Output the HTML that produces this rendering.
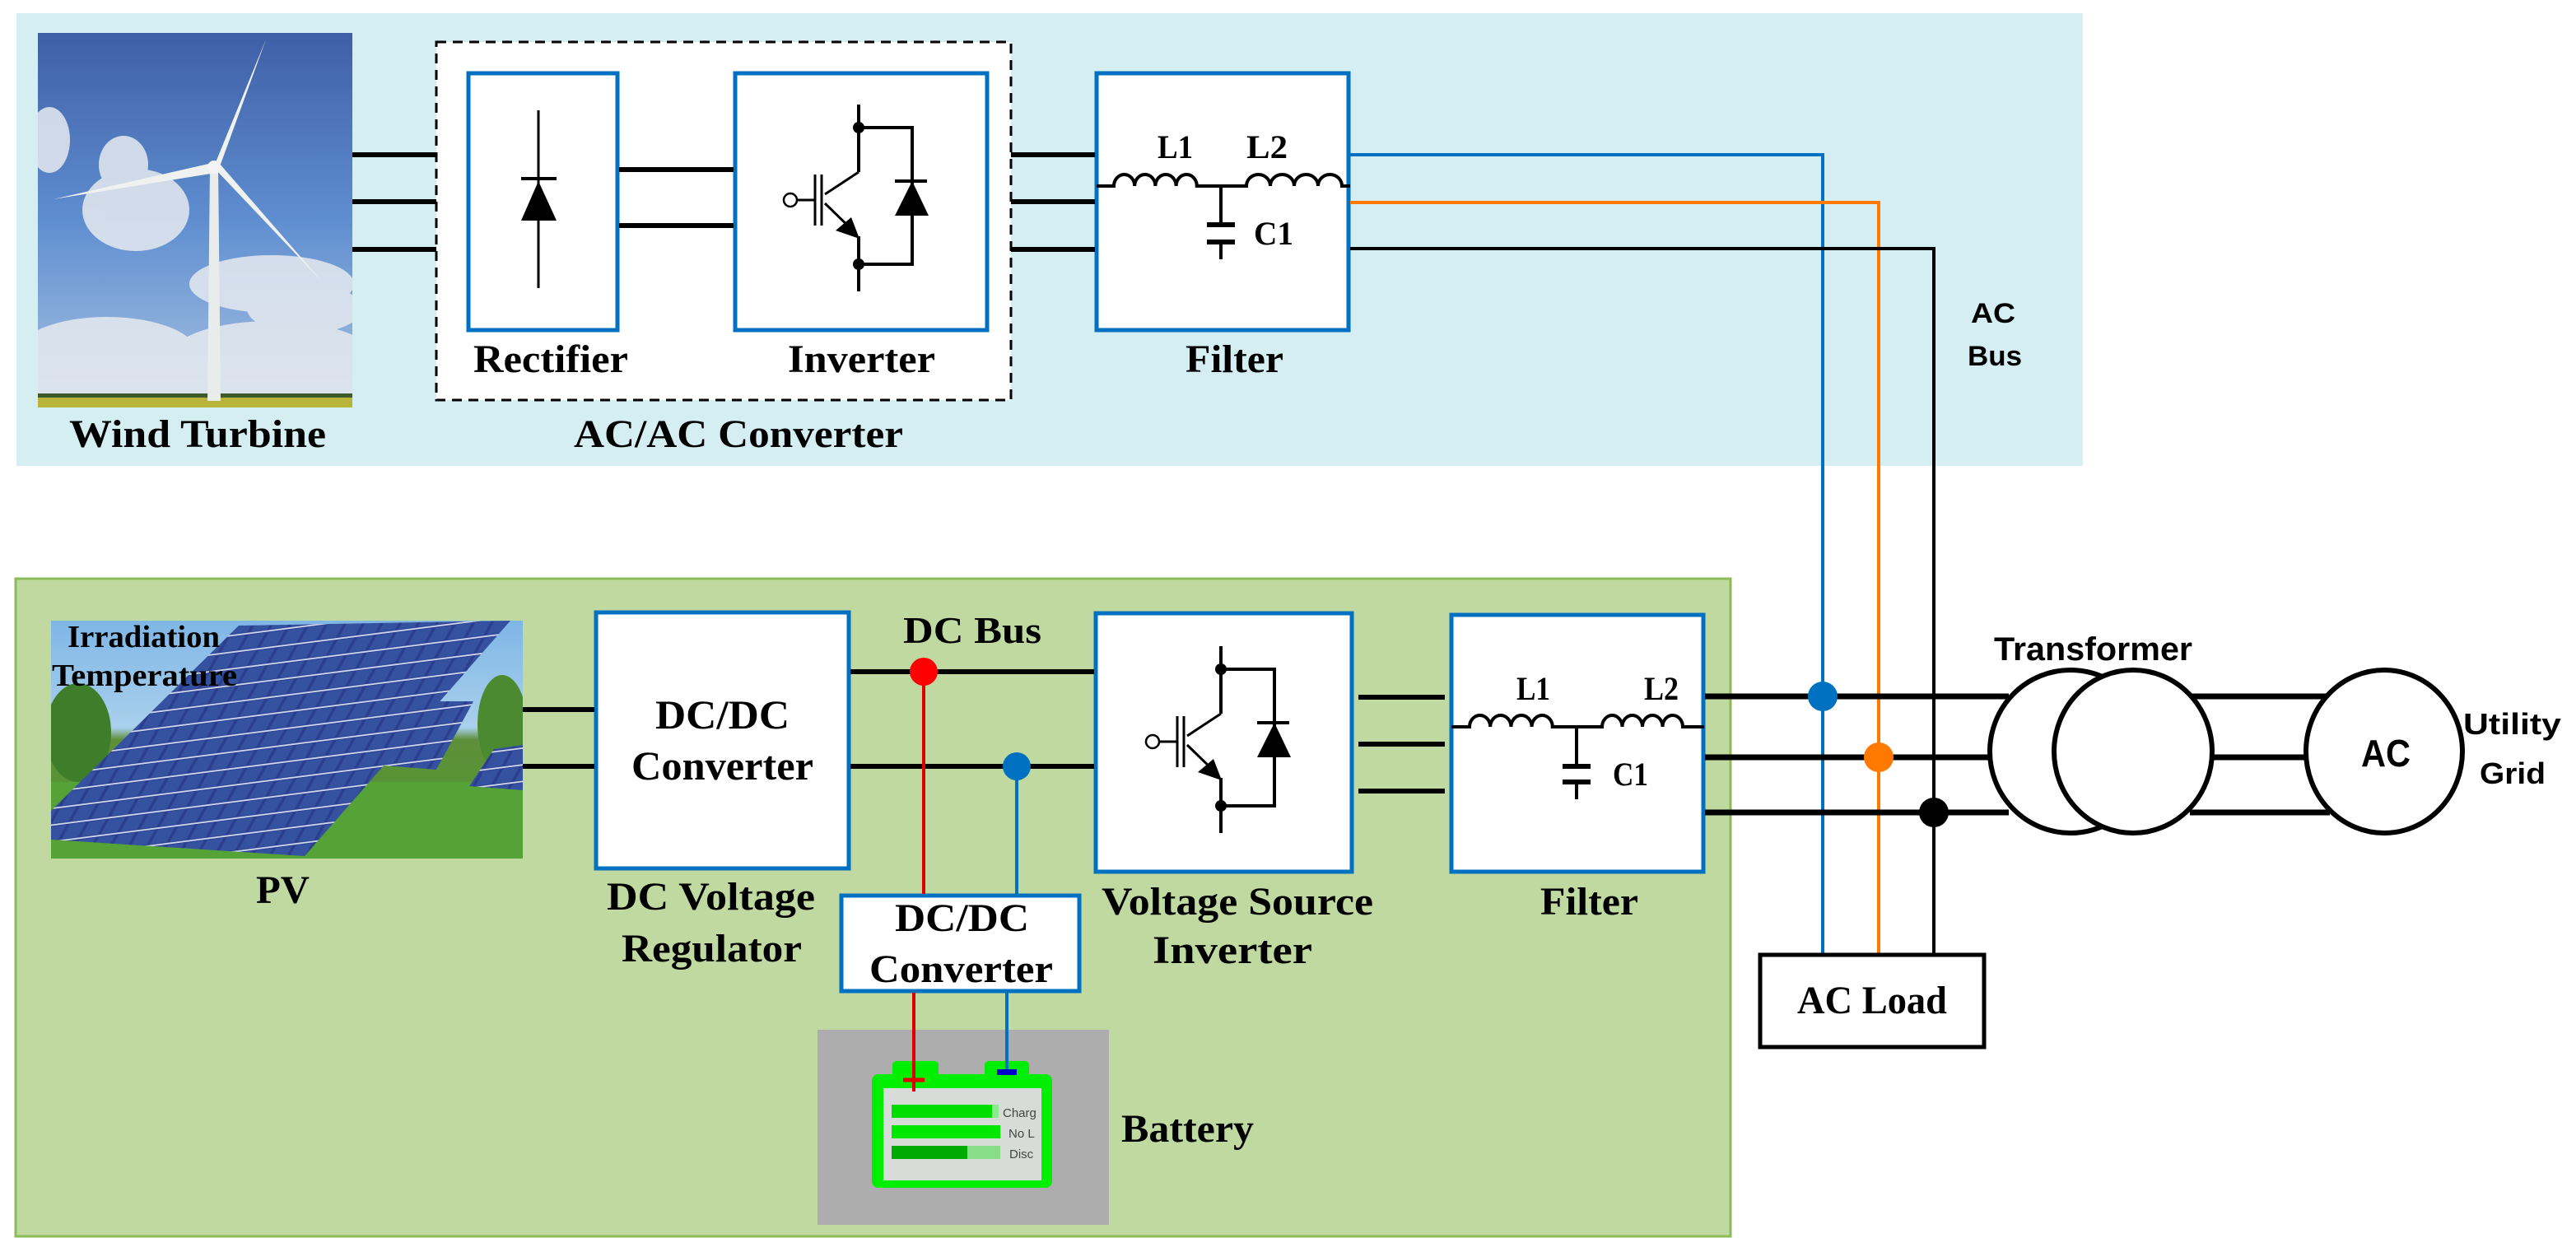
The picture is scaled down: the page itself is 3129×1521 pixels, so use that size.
<!DOCTYPE html>
<html><head><meta charset="utf-8"><style>
html,body{margin:0;padding:0;background:#fff;}
svg{display:block;}
.s{font-family:"Liberation Serif",serif;font-weight:bold;fill:#000;}
.a{font-family:"Liberation Sans",sans-serif;font-weight:bold;fill:#000;}
</style></head><body>
<svg width="3129" height="1521" viewBox="0 0 3129 1521" xmlns="http://www.w3.org/2000/svg">
<defs>
<linearGradient id="sky" x1="0" y1="0" x2="0" y2="1"><stop offset="0" stop-color="#3f5fa6"/><stop offset="0.5" stop-color="#5f8ed0"/><stop offset="1" stop-color="#a9c3e2"/></linearGradient>
<linearGradient id="pvsky" x1="0" y1="0" x2="0" y2="1"><stop offset="0" stop-color="#7fb6e6"/><stop offset="0.45" stop-color="#a9d0ec"/><stop offset="0.5" stop-color="#5e8f3a"/><stop offset="1" stop-color="#4f9a2e"/></linearGradient>
<pattern id="cells" width="22" height="22" patternUnits="userSpaceOnUse" patternTransform="skewX(-35) rotate(-8)"><rect width="22" height="22" fill="#2b3f8e"/><rect x="1" y="1" width="18" height="18" fill="#34529f"/><line x1="0" y1="21" x2="22" y2="21" stroke="#cfd8ee" stroke-width="2"/></pattern>
<g id="igbt">
<line x1="1483" y1="785" x2="1483" y2="867" stroke="#000" stroke-width="4"/>
<line x1="1483" y1="867" x2="1442" y2="894" stroke="#000" stroke-width="3"/>
<line x1="1442" y1="905" x2="1478" y2="940" stroke="#000" stroke-width="3"/>
<polygon points="1484,948 1455,938 1474,922" fill="#000"/>
<line x1="1483" y1="945" x2="1483" y2="1012" stroke="#000" stroke-width="4"/>
<circle cx="1483" cy="813" r="7" fill="#000"/><circle cx="1483" cy="979" r="7" fill="#000"/>
<polyline points="1483,813 1548,813 1548,979 1483,979" fill="none" stroke="#000" stroke-width="4"/>
<polygon points="1527,920 1568,920 1548,878" fill="#000"/>
<line x1="1527" y1="878" x2="1566" y2="878" stroke="#000" stroke-width="4"/>
<line x1="1430" y1="870" x2="1430" y2="932" stroke="#000" stroke-width="3"/>
<line x1="1438" y1="870" x2="1438" y2="932" stroke="#000" stroke-width="3"/>
<line x1="1408" y1="901" x2="1430" y2="901" stroke="#000" stroke-width="3"/>
<circle cx="1400" cy="901" r="8" fill="none" stroke="#000" stroke-width="2.5"/>
</g>
</defs>

<!-- top panel -->
<rect x="20" y="16" width="2510" height="550" fill="#d5eef2"/>
<!-- wind image -->
<svg x="46" y="40" width="382" height="455" viewBox="46 40 382 455">
<rect x="46" y="40" width="382" height="455" fill="url(#sky)"/>
<g fill="#e6eaf0" opacity="0.85">
<ellipse cx="165" cy="255" rx="65" ry="50"/><ellipse cx="150" cy="200" rx="30" ry="35"/><ellipse cx="60" cy="170" rx="25" ry="40"/>
<ellipse cx="330" cy="345" rx="100" ry="35"/><ellipse cx="370" cy="375" rx="70" ry="30"/>
<ellipse cx="130" cy="430" rx="110" ry="45"/><ellipse cx="330" cy="430" rx="120" ry="40"/>
<rect x="46" y="440" width="382" height="40"/>
</g>
<rect x="46" y="478" width="382" height="17" fill="#b8b43a"/>
<rect x="46" y="478" width="382" height="5" fill="#3f5a2a"/>
<polygon points="255,202 265,202 268,487 252,487" fill="#e8ecea"/>
<polygon points="260,202 323,48 266,205" fill="#f0f2ef"/>
<polygon points="258,198 65,242 262,210" fill="#f0f2ef"/>
<polygon points="262,206 392,343 266,198" fill="#f0f2ef"/>
<circle cx="260" cy="203" r="8" fill="#f4f4f4"/>
</svg>
<!-- dashed converter -->
<rect x="530" y="51" width="698" height="435" fill="#fff" stroke="#000" stroke-width="3" stroke-dasharray="12,8"/>
<rect x="569" y="89" width="181" height="312" fill="#fff" stroke="#0070c0" stroke-width="5"/>
<rect x="893" y="89" width="306" height="312" fill="#fff" stroke="#0070c0" stroke-width="5"/>
<rect x="1332" y="89" width="306" height="312" fill="#fff" stroke="#0070c0" stroke-width="5"/>
<!-- rectifier diode -->
<line x1="654" y1="134" x2="654" y2="350" stroke="#000" stroke-width="3"/>
<line x1="633" y1="217" x2="676" y2="217" stroke="#000" stroke-width="4"/>
<polygon points="633,268 676,268 654,220" fill="#000"/>
<use href="#igbt" transform="translate(-440,-658)"/>
<!-- wires top -->
<g stroke="#000" stroke-width="6">
<line x1="428" y1="188" x2="530" y2="188"/><line x1="428" y1="245" x2="530" y2="245"/><line x1="428" y1="303" x2="530" y2="303"/>
<line x1="752" y1="206" x2="891" y2="206"/><line x1="752" y1="274" x2="891" y2="274"/>
<line x1="1228" y1="188" x2="1330" y2="188"/><line x1="1228" y1="245" x2="1330" y2="245"/><line x1="1228" y1="303" x2="1330" y2="303"/>
</g>
<!-- top filter -->
<g fill="none" stroke="#000" stroke-width="4">
<path d="M1332,226 H1353 a12.6,14 0 0 1 25.2,0 a12.6,14 0 0 1 25.2,0 a12.6,14 0 0 1 25.2,0 a12.6,14 0 0 1 25.2,0 H1514 a14.5,14 0 0 1 29,0 a14.5,14 0 0 1 29,0 a14.5,14 0 0 1 29,0 a14.5,14 0 0 1 29,0 H1640"/>
<line x1="1483" y1="226" x2="1483" y2="273"/>
<line x1="1483" y1="294" x2="1483" y2="315"/>
</g>
<line x1="1466" y1="273" x2="1500" y2="273" stroke="#000" stroke-width="6"/>
<line x1="1466" y1="294" x2="1500" y2="294" stroke="#000" stroke-width="6"/>
<text class="s" x="1406" y="192" font-size="40" textLength="43" lengthAdjust="spacingAndGlyphs">L1</text>
<text class="s" x="1514" y="192" font-size="40" textLength="50" lengthAdjust="spacingAndGlyphs">L2</text>
<text class="s" x="1523" y="297" font-size="40" textLength="48" lengthAdjust="spacingAndGlyphs">C1</text>
<text class="s" x="575" y="452" font-size="48" textLength="188" lengthAdjust="spacingAndGlyphs">Rectifier</text>
<text class="s" x="957" y="452" font-size="48" textLength="179" lengthAdjust="spacingAndGlyphs">Inverter</text>
<text class="s" x="1440" y="452" font-size="48" textLength="119" lengthAdjust="spacingAndGlyphs">Filter</text>
<text class="s" x="84" y="543" font-size="48" textLength="312" lengthAdjust="spacingAndGlyphs">Wind Turbine</text>
<text class="s" x="697" y="543" font-size="48" textLength="400" lengthAdjust="spacingAndGlyphs">AC/AC Converter</text>

<!-- bottom panel -->
<rect x="19" y="703" width="2083" height="799" fill="#c0d9a0" stroke="#8dbb5a" stroke-width="3"/>
<!-- PV image -->
<svg x="62" y="754" width="573" height="289" viewBox="62 754 573 289">
<rect x="62" y="754" width="573" height="289" fill="url(#pvsky)"/>
<ellipse cx="95" cy="890" rx="40" ry="60" fill="#3e7d2a"/><ellipse cx="610" cy="880" rx="30" ry="60" fill="#4b8a30"/>
<rect x="62" y="950" width="573" height="93" fill="#55a237"/>
<polygon points="290,760 620,754 370,1040 62,1020 62,985" fill="url(#cells)"/>
<polygon points="500,852 575,852 530,935 440,928" fill="url(#cells)"/>
<polygon points="600,910 635,905 635,960 570,955" fill="url(#cells)"/>
</svg>
<text class="s" x="82" y="786" font-size="38" textLength="185" lengthAdjust="spacingAndGlyphs">Irradiation</text>
<text class="s" x="63" y="833" font-size="38" textLength="225" lengthAdjust="spacingAndGlyphs">Temperature</text>
<text class="s" x="311" y="1097" font-size="48" textLength="65" lengthAdjust="spacingAndGlyphs">PV</text>
<!-- boxes -->
<rect x="724" y="744" width="307" height="311" fill="#fff" stroke="#0070c0" stroke-width="5"/>
<rect x="1331" y="745" width="311" height="314" fill="#fff" stroke="#0070c0" stroke-width="5"/>
<rect x="1763" y="747" width="306" height="312" fill="#fff" stroke="#0070c0" stroke-width="5"/>
<rect x="1022" y="1088" width="289" height="116" fill="#fff" stroke="#0070c0" stroke-width="5"/>
<use href="#igbt"/>
<g stroke="#000" stroke-width="6">
<line x1="635" y1="862" x2="722" y2="862"/><line x1="635" y1="931" x2="722" y2="931"/>
<line x1="1033" y1="816" x2="1329" y2="816"/><line x1="1033" y1="931" x2="1329" y2="931"/>
<line x1="1650" y1="847" x2="1755" y2="847"/><line x1="1650" y1="904" x2="1755" y2="904"/><line x1="1650" y1="961" x2="1755" y2="961"/>
</g>
<!-- DC bus taps -->
<line x1="1122" y1="816" x2="1122" y2="1086" stroke="#e00000" stroke-width="4"/>
<line x1="1235" y1="931" x2="1235" y2="1086" stroke="#0070c0" stroke-width="4"/>
<circle cx="1122" cy="816" r="17" fill="#ff0000"/>
<circle cx="1235" cy="931" r="17" fill="#0070c0"/>
<!-- battery -->
<rect x="993" y="1251" width="354" height="237" fill="#adadad"/>
<rect x="1084" y="1289" width="56" height="24" rx="5" fill="#00ee00"/>
<rect x="1196" y="1289" width="54" height="24" rx="5" fill="#00ee00"/>
<rect x="1059" y="1305" width="219" height="138" rx="8" fill="#00ee00"/>
<rect x="1073" y="1322" width="192" height="112" fill="#d8dcd8"/>
<rect x="1083" y="1342" width="122" height="16" fill="#00dd00"/><rect x="1205" y="1342" width="8" height="16" fill="#8ee88e"/>
<rect x="1083" y="1367" width="132" height="16" fill="#00e800"/>
<rect x="1083" y="1392" width="92" height="16" fill="#00aa00"/><rect x="1175" y="1392" width="40" height="16" fill="#88dd88"/>
<text x="1218" y="1357" font-family="Liberation Sans,sans-serif" font-size="15" fill="#444">Charg</text>
<text x="1225" y="1382" font-family="Liberation Sans,sans-serif" font-size="15" fill="#444">No L</text>
<text x="1226" y="1407" font-family="Liberation Sans,sans-serif" font-size="15" fill="#444">Disc</text>
<line x1="1110" y1="1206" x2="1110" y2="1326" stroke="#e00000" stroke-width="4"/>
<line x1="1097" y1="1312" x2="1123" y2="1312" stroke="#e00000" stroke-width="5"/>
<line x1="1223" y1="1206" x2="1223" y2="1302" stroke="#0070c0" stroke-width="4"/>
<rect x="1211" y="1299" width="24" height="7" fill="#0000cc"/>
<!-- filter2 -->
<g fill="none" stroke="#000" stroke-width="4">
<path d="M1763,883 H1785 a12.6,14 0 0 1 25.2,0 a12.6,14 0 0 1 25.2,0 a12.6,14 0 0 1 25.2,0 a12.6,14 0 0 1 25.2,0 H1946 a12.25,14 0 0 1 24.5,0 a12.25,14 0 0 1 24.5,0 a12.25,14 0 0 1 24.5,0 a12.25,14 0 0 1 24.5,0 H2070"/>
<line x1="1915" y1="883" x2="1915" y2="931"/>
<line x1="1915" y1="950" x2="1915" y2="971"/>
</g>
<line x1="1898" y1="931" x2="1932" y2="931" stroke="#000" stroke-width="6"/>
<line x1="1898" y1="950" x2="1932" y2="950" stroke="#000" stroke-width="6"/>
<text class="s" x="1842" y="850" font-size="40" textLength="41" lengthAdjust="spacingAndGlyphs">L1</text>
<text class="s" x="1997" y="850" font-size="40" textLength="42" lengthAdjust="spacingAndGlyphs">L2</text>
<text class="s" x="1959" y="954" font-size="40" textLength="43" lengthAdjust="spacingAndGlyphs">C1</text>
<text class="s" x="796" y="885" font-size="50" textLength="163" lengthAdjust="spacingAndGlyphs">DC/DC</text>
<text class="s" x="767" y="947" font-size="50" textLength="221" lengthAdjust="spacingAndGlyphs">Converter</text>
<text class="s" x="1097" y="781" font-size="46" textLength="168" lengthAdjust="spacingAndGlyphs">DC Bus</text>
<text class="s" x="737" y="1105" font-size="48" textLength="253" lengthAdjust="spacingAndGlyphs">DC Voltage</text>
<text class="s" x="755" y="1168" font-size="48" textLength="219" lengthAdjust="spacingAndGlyphs">Regulator</text>
<text class="s" x="1087" y="1131" font-size="48" textLength="163" lengthAdjust="spacingAndGlyphs">DC/DC</text>
<text class="s" x="1056" y="1193" font-size="48" textLength="223" lengthAdjust="spacingAndGlyphs">Converter</text>
<text class="s" x="1338" y="1111" font-size="48" textLength="330" lengthAdjust="spacingAndGlyphs">Voltage Source</text>
<text class="s" x="1400" y="1170" font-size="48" textLength="194" lengthAdjust="spacingAndGlyphs">Inverter</text>
<text class="s" x="1871" y="1111" font-size="48" textLength="119" lengthAdjust="spacingAndGlyphs">Filter</text>
<text class="s" x="1362" y="1387" font-size="48" textLength="161" lengthAdjust="spacingAndGlyphs">Battery</text>

<!-- AC bus -->
<g fill="none" stroke-width="4">
<polyline points="1640,188 2214,188 2214,1158" stroke="#0070c0"/>
<polyline points="1640,246 2282,246 2282,1158" stroke="#ff7800"/>
<polyline points="1640,302 2349,302 2349,1158" stroke="#000"/>
</g>
<g stroke="#000" stroke-width="7">
<line x1="2071" y1="846" x2="2440" y2="846"/><line x1="2071" y1="920" x2="2420" y2="920"/><line x1="2071" y1="987" x2="2440" y2="987"/>
<line x1="2660" y1="846" x2="2830" y2="846"/><line x1="2687" y1="920" x2="2801" y2="920"/><line x1="2660" y1="987" x2="2830" y2="987"/>
</g>
<circle cx="2214" cy="846" r="18" fill="#0070c0"/>
<circle cx="2282" cy="920" r="18" fill="#ff7800"/>
<circle cx="2349" cy="987" r="18" fill="#000"/>
<g fill="none" stroke="#000" stroke-width="6">
<ellipse cx="2515" cy="913" rx="98" ry="99"/>
<ellipse cx="2591" cy="913" rx="96" ry="99" fill="#fff"/>
<ellipse cx="2896" cy="913" rx="95" ry="99" fill="#fff"/>
</g>
<rect x="2138" y="1160" width="272" height="112" fill="#fff" stroke="#000" stroke-width="5"/>
<text class="s" x="2183" y="1231" font-size="48" textLength="182" lengthAdjust="spacingAndGlyphs">AC Load</text>
<text class="a" x="2422" y="802" font-size="40" textLength="241" lengthAdjust="spacingAndGlyphs">Transformer</text>
<text class="a" x="2868" y="931" font-size="46" textLength="60" lengthAdjust="spacingAndGlyphs">AC</text>
<text class="a" x="2992" y="892" font-size="36" textLength="119" lengthAdjust="spacingAndGlyphs">Utility</text>
<text class="a" x="3012" y="952" font-size="36" textLength="80" lengthAdjust="spacingAndGlyphs">Grid</text>
<text class="a" x="2394" y="392" font-size="34" textLength="54" lengthAdjust="spacingAndGlyphs">AC</text>
<text class="a" x="2390" y="444" font-size="34" textLength="66" lengthAdjust="spacingAndGlyphs">Bus</text>
</svg>
</body></html>
